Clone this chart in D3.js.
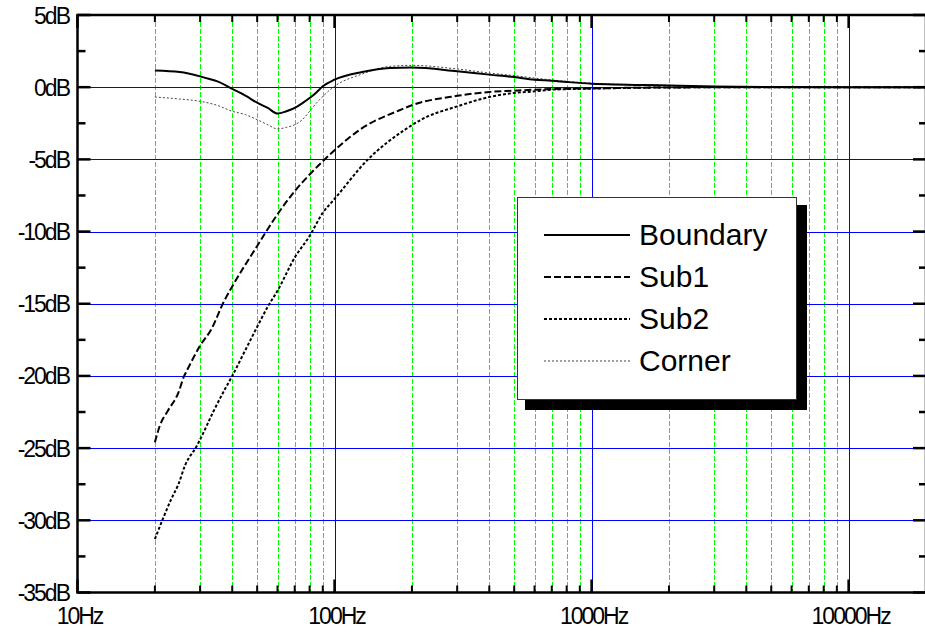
<!DOCTYPE html>
<html><head><meta charset="utf-8">
<script src="https://cdn.jsdelivr.net/npm/d3@7"></script>
<style>
html,body{margin:0;padding:0;background:#fff;}
svg{display:block;}
text{font-family:Arial,"Liberation Sans",sans-serif;fill:#000;}
</style></head>
<body>
<svg id="chart" width="925" height="634"></svg>
<script>
// ---- data ----
const seriesNames = ["Boundary", "Sub1", "Sub2", "Corner"];

const boundaryFreq = [20,25,30,32.6,35,40,45,50,55,60,65,70,75,80,85,90,100,128,164,200,300,400,500,600,700,800,1000,2000,3000,5000,20000];
const boundaryDb   = [1.16,1.05,0.75,0.57,0.4,-0.12,-0.59,-1.07,-1.44,-1.83,-1.67,-1.44,-1.1,-0.75,-0.36,0.06,0.52,1.05,1.33,1.36,1.1,0.87,0.7,0.52,0.45,0.36,0.24,0.12,0.05,0.01,0];

const sub1Freq = [20,20.9,22.5,24.7,26.0,26.6,30,33.2,37,40,50,60,70,80,90,100,125.6,181,200,300,400,500,600,1000,2000,5000,20000];
const sub1Db   = [-24.6,-23.45,-22.4,-21.15,-20.0,-19.65,-17.9,-16.75,-14.9,-13.8,-11.0,-8.8,-7.2,-6.05,-5.13,-4.37,-2.94,-1.56,-1.25,-0.6,-0.33,-0.24,-0.17,-0.08,-0.02,0,0];

const sub2Freq = [20,21.6,23.2,24.7,26.2,29,30,33.7,37.5,40,45,50,55,60,70,80,90,100,135,188,220,300,400,500,600,700,1000,2000,5000,20000];
const sub2Db   = [-31.3,-29.8,-28.5,-27.5,-26.2,-24.9,-24.4,-22.5,-20.9,-20.0,-18.2,-16.6,-15.2,-14.1,-11.8,-10.3,-8.7,-7.74,-5.0,-2.94,-2.2,-1.33,-0.68,-0.4,-0.29,-0.17,-0.1,-0.02,0,0];

const cornerFreq = [20,25,30,35,40,45,50,55,60,65,70,75,80,85,90,100,128,164,200,300,400,500,700,1000,2000,3000,5000,20000];
const cornerDb   = [-0.68,-0.82,-0.98,-1.26,-1.67,-1.9,-2.25,-2.6,-2.89,-2.78,-2.6,-2.25,-1.67,-1.1,-0.64,0.06,0.91,1.44,1.51,1.26,0.98,0.8,0.5,0.28,0.13,0.05,0.01,0];

const yTickValues = [5,0,-5,-10,-15,-20,-25,-30,-35];
const yTickLabels = ["5dB","0dB","-5dB","-10dB","-15dB","-20dB","-25dB","-30dB","-35dB"];
const xMajorValues = [10,100,1000,10000];
const xMajorLabels = ["10Hz","100Hz","1000Hz","10000Hz"];
const xMinorValues = [20,30,40,50,60,70,80,90,200,300,400,500,600,700,800,900,2000,3000,4000,5000,6000,7000,8000,9000];

// ---- layout ----
const svg = d3.select("#chart");
const L = 77.5, R = 926, T = 15, B = 592.5;
const x = d3.scaleLog().domain([10, 20000]).range([L, R]);
const y = d3.scaleLinear().domain([-35, 5]).range([B, T]);
const px = v => Math.round(v) + 0.5;

// grid
const grid = svg.append("g").attr("shape-rendering", "crispEdges");
grid.selectAll("line.vg").data(xMinorValues).join("line")
  .attr("x1", d => px(x(d))).attr("x2", d => px(x(d))).attr("y1", T).attr("y2", B)
  .attr("stroke", "#00ff00").attr("stroke-width", 1).attr("stroke-dasharray", "5,2");
grid.selectAll("line.vb").data(xMajorValues.slice(1)).join("line")
  .attr("x1", d => px(x(d))).attr("x2", d => px(x(d))).attr("y1", T).attr("y2", B)
  .attr("stroke", "#0000ff").attr("stroke-width", 1);
grid.selectAll("line.hb").data(yTickValues.filter(v => v < 5 && v > -35)).join("line")
  .attr("x1", L).attr("x2", R).attr("y1", d => px(y(d))).attr("y2", d => px(y(d)))
  .attr("stroke", "#0000ff").attr("stroke-width", 1);

// curves
const line = d3.line().x(d => x(d[0])).y(d => y(d[1])).curve(d3.curveMonotoneX);
const styles = {
  Boundary: {stroke:"#000", width:2, dash:null},
  Sub1: {stroke:"#000", width:2, dash:"7,3"},
  Sub2: {stroke:"#000", width:2, dash:"3,2"},
  Corner: {stroke:"#444", width:1, dash:"2,2"}
};
const seriesData = {
  Boundary: d3.zip(boundaryFreq, boundaryDb),
  Sub1: d3.zip(sub1Freq, sub1Db),
  Sub2: d3.zip(sub2Freq, sub2Db),
  Corner: d3.zip(cornerFreq, cornerDb)
};
svg.append("clipPath").attr("id","clip").append("rect")
  .attr("x", L).attr("y", T).attr("width", R - L).attr("height", B - T);
const cg = svg.append("g").attr("clip-path", "url(#clip)");
["Corner","Sub2","Sub1","Boundary"].forEach(name => {
  const s = styles[name];
  cg.append("path").datum(seriesData[name]).attr("d", line)
    .attr("fill", "none").attr("stroke", s.stroke).attr("stroke-width", s.width)
    .attr("stroke-dasharray", s.dash);
});

// legend
const lg = svg.append("g");
lg.append("rect").attr("x", 525).attr("y", 205).attr("width", 282).attr("height", 205).attr("fill", "#000");
lg.append("rect").attr("x", 517.5).attr("y", 197.5).attr("width", 279).attr("height", 202)
  .attr("fill", "#fff").attr("stroke", "#333").attr("stroke-width", 1);
seriesNames.forEach((name, i) => {
  const s = styles[name];
  const yb = 245 + i * 42;
  lg.append("line").attr("x1", 544).attr("x2", 630).attr("y1", yb - 10).attr("y2", yb - 10)
    .attr("stroke", s.stroke).attr("stroke-width", s.width).attr("stroke-dasharray", s.dash);
  lg.append("text").attr("x", 639).attr("y", yb).attr("font-size", 30).text(name);
});

// axes / frame
const ax = svg.append("g").attr("stroke", "#000");
ax.append("rect").attr("x", L).attr("y", T).attr("width", R - L).attr("height", B - T)
  .attr("fill", "none").attr("stroke-width", 2.5);
const yMinor = d3.range(2.5, -35, -5);
yTickValues.forEach(v => {
  ax.append("line").attr("x1", L).attr("x2", L + 13).attr("y1", y(v)).attr("y2", y(v)).attr("stroke-width", 2.5);
  ax.append("line").attr("x1", R).attr("x2", R - 13).attr("y1", y(v)).attr("y2", y(v)).attr("stroke-width", 2.5);
});
yMinor.forEach(v => {
  ax.append("line").attr("x1", L).attr("x2", L + 8).attr("y1", y(v)).attr("y2", y(v)).attr("stroke-width", 2.5);
  ax.append("line").attr("x1", R).attr("x2", R - 7).attr("y1", y(v)).attr("y2", y(v)).attr("stroke-width", 2.5);
});
xMajorValues.forEach(v => {
  ax.append("line").attr("x1", x(v)).attr("x2", x(v)).attr("y1", B).attr("y2", B - 13).attr("stroke-width", 2.5);
  ax.append("line").attr("x1", x(v)).attr("x2", x(v)).attr("y1", T).attr("y2", T + 13).attr("stroke-width", 2.5);
});
xMinorValues.forEach(v => {
  ax.append("line").attr("x1", x(v)).attr("x2", x(v)).attr("y1", B).attr("y2", B - 7).attr("stroke-width", 2);
  ax.append("line").attr("x1", x(v)).attr("x2", x(v)).attr("y1", T).attr("y2", T + 7).attr("stroke-width", 2);
});

// labels
const lab = svg.append("g").attr("font-size", 23).style("letter-spacing", "-2px");
yTickValues.forEach((v, i) => {
  lab.append("text").attr("x", 69).attr("y", y(v) + 8.5).attr("text-anchor", "end").text(yTickLabels[i]);
});
xMajorValues.forEach((v, i) => {
  lab.append("text").attr("x", x(v) + 2).attr("y", 624).attr("text-anchor", "middle").text(xMajorLabels[i]);
});
</script>
</body></html>
